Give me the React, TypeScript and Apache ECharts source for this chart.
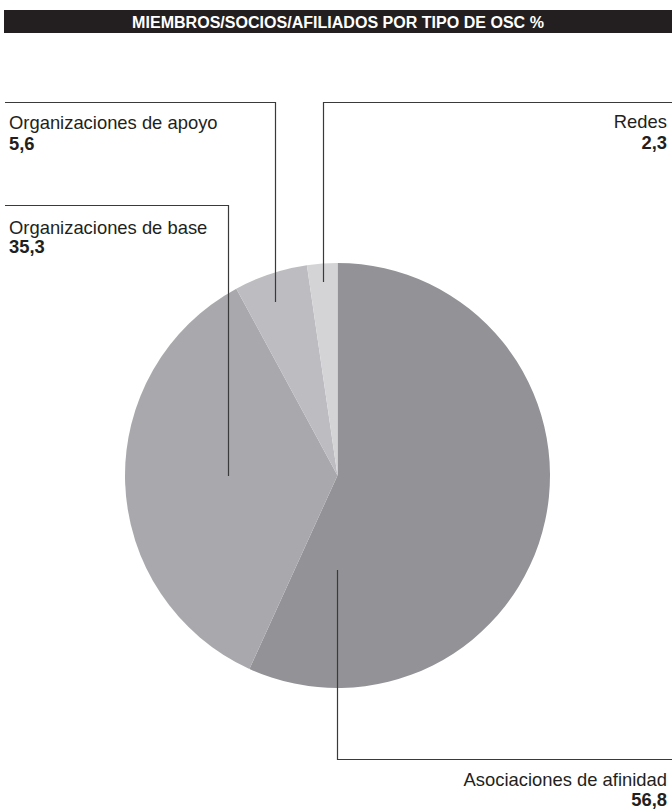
import React, { useEffect, useRef } from "react";
import * as echarts from "echarts";

const TITLE = "MIEMBROS/SOCIOS/AFILIADOS POR TIPO DE OSC %";
const categories = [
  "Asociaciones de afinidad",
  "Organizaciones de base",
  "Organizaciones de apoyo",
  "Redes",
];
const values = [56.8, 35.3, 5.6, 2.3];
const colors = ["#939397", "#a9a9ad", "#bdbdc1", "#d4d4d7"];

const fmt = (v: number) => v.toFixed(1).replace(".", ",");

export default function App() {
  const ref = useRef<HTMLDivElement>(null);
  useEffect(() => {
    document.body.style.margin = "0";
    const chart = echarts.init(ref.current!, null, { renderer: "svg" });
    const textColor = "#231f20";
    const lineColor = "#3a3a3a";
    const nameFont = {
      fontFamily: "Liberation Sans, Arial, sans-serif",
      fontSize: 18.4,
      lineHeight: 18,
    };
    const label = (
      x: number,
      yName: number,
      yVal: number,
      idx: number,
      align: "left" | "right"
    ) => [
      {
        type: "text",
        x,
        y: yName,
        style: {
          text: categories[idx],
          ...nameFont,
          fill: textColor,
          align,
          verticalAlign: "middle",
        },
      },
      {
        type: "text",
        x,
        y: yVal,
        style: {
          text: fmt(values[idx]),
          ...nameFont,
          fontWeight: "bold",
          fill: textColor,
          align,
          verticalAlign: "middle",
        },
      },
    ];
    const leader = (pts: number[][]) => ({
      type: "polyline",
      shape: { points: pts },
      style: { stroke: lineColor, lineWidth: 1.2, fill: "none" },
      z: 10,
    });
    chart.setOption({
      animation: false,
      series: [
        {
          type: "pie",
          center: [337.5, 475.5],
          radius: [0, 212.5],
          startAngle: 90,
          clockwise: true,
          label: { show: false },
          labelLine: { show: false },
          emphasis: { disabled: true },
          itemStyle: { borderWidth: 0 },
          data: categories.map((c, i) => ({
            name: c,
            value: values[i],
            itemStyle: { color: colors[i] },
          })),
        },
      ],
      graphic: [
        {
          type: "rect",
          shape: { x: 4, y: 10, width: 668, height: 23 },
          style: { fill: "#231f20" },
        },
        {
          type: "text",
          x: 338,
          y: 22,
          scaleX: 0.945,
          style: {
            text: TITLE,
            fontFamily: "Liberation Sans Narrow, Arial Narrow, Liberation Sans, sans-serif",
            fontWeight: "bold",
            fontSize: 17,
            fill: "#ffffff",
            align: "center",
            verticalAlign: "middle",
          },
        },
        leader([[337.5, 570], [337.5, 759.5], [672, 759.5]]),
        leader([[228.5, 476], [228.5, 205.5], [5, 205.5]]),
        leader([[275.5, 302], [275.5, 102.5], [5, 102.5]]),
        leader([[323.5, 282], [323.5, 102.5], [672, 102.5]]),
        ...label(9, 122.5, 143.5, 2, "left"),
        ...label(9, 227.5, 246.5, 1, "left"),
        ...label(667, 121.5, 142.5, 3, "right"),
        ...label(667, 779.5, 799, 0, "right"),
      ],
    });
    return () => chart.dispose();
  }, []);
  return <div ref={ref} style={{ width: 672, height: 810 }} />;
}
